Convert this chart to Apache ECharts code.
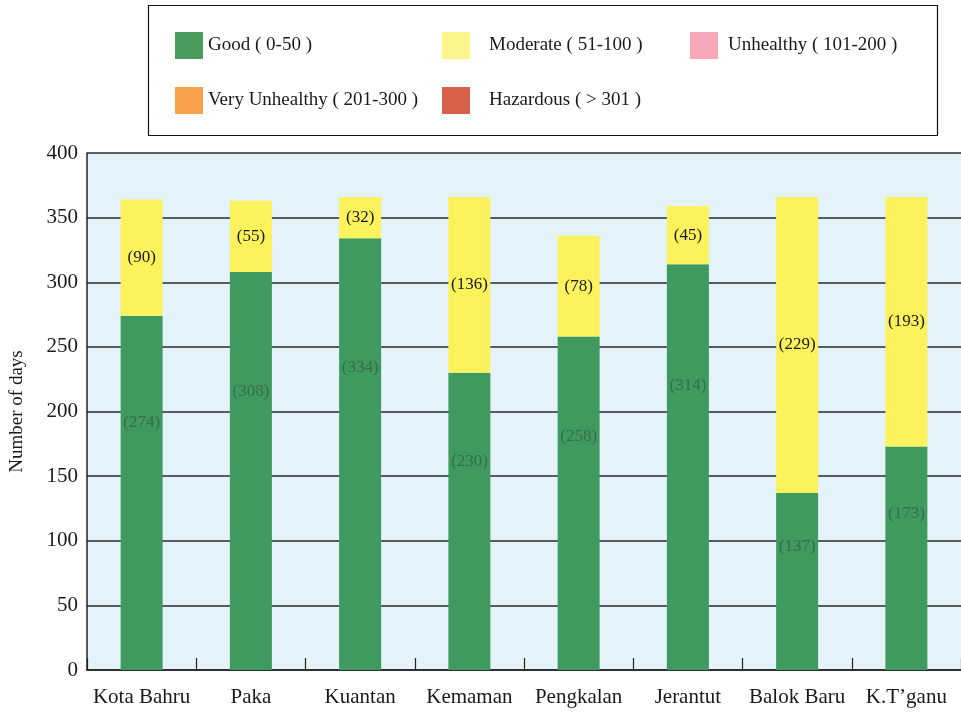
<!DOCTYPE html>
<html>
<head>
<meta charset="utf-8">
<script src="https://cdn.jsdelivr.net/npm/echarts@6/dist/echarts.min.js"></script>
<style>
html,body{margin:0;padding:0;background:#fff;}
#c1{width:961px;height:715px;}
</style>
</head>
<body>
<div id="c1"></div>
<script type="text/javascript">
// stations along the x axis
var stations = ['Kota Bahru', 'Paka', 'Kuantan', 'Kemaman', 'Pengkalan', 'Jerantut', 'Balok Baru', 'K.T\u2019ganu'];
// number of days in each API band
var goodDays = [274, 308, 334, 230, 258, 314, 137, 173];
var moderateDays = [90, 55, 32, 136, 78, 45, 229, 193];
var unhealthyDays = [];
var veryUnhealthyDays = [];
var hazardousDays = [];
var yTicks = [0, 50, 100, 150, 200, 250, 300, 350, 400];

var bandNames = ['Good ( 0-50 )', 'Moderate ( 51-100 )', 'Unhealthy ( 101-200 )', 'Very Unhealthy ( 201-300 )', 'Hazardous ( > 301 )'];
var color = ['#3f9a5f', '#fbf25c', '#f7a8b8', '#f8a24c', '#d8604b'];
var legendColor = ['#4a9d5c', '#fbf68c', '#f7a8b8', '#f8a24c', '#d8604b'];

var font = '"Liberation Serif", "DejaVu Serif", serif';

function legendItem(i, left, top, gap){
    return {
        show: true,
        left: left,
        top: top,
        padding: 0,
        orient: 'horizontal',
        itemWidth: 28,
        itemHeight: 27,
        icon: 'rect',
        selectedMode: false,
        data: [{name: bandNames[i], itemStyle: {color: legendColor[i]}}],
        textStyle: {
            color: '#1a1a1a',
            fontFamily: font,
            fontSize: 19,
            padding: [0, 0, 0, gap]
        }
    };
}

var chart = echarts.init(document.getElementById('c1'));
var option = {
    animation: false,
    color: color,
    legend: [
        legendItem(0, 175, 32, 0),
        legendItem(1, 442, 32, 14),
        legendItem(2, 690, 32, 5),
        legendItem(3, 175, 87, 0),
        legendItem(4, 442, 87, 14)
    ],
    graphic: [{
        type: 'rect',
        shape: {x: 148.5, y: 5.5, width: 789, height: 130},
        style: {fill: 'none', stroke: '#111', lineWidth: 1.2},
        z: -1
    }],
    grid: {
        left: 85,
        top: 153,
        width: 878,
        bottom: 45,
        show: true,
        backgroundColor: '#e4f2f9',
        borderWidth: 0
    },
    xAxis: {
        type: 'category',
        data: stations,
        boundaryGap: true,
        axisLine: {show: true, lineStyle: {color: '#222', width: 1.5}},
        axisTick: {show: true, inside: true, length: 12, lineStyle: {color: '#222', width: 1.2}},
        axisLabel: {
            color: '#1a1a1a',
            fontFamily: font,
            fontSize: 21,
            margin: 17,
            interval: 0
        }
    },
    yAxis: {
        type: 'value',
        min: yTicks[0],
        max: yTicks[yTicks.length - 1],
        interval: 50,
        name: 'Number of days',
        nameLocation: 'middle',
        nameGap: 60,
        nameTextStyle: {color: '#1a1a1a', fontFamily: font, fontSize: 19},
        axisLine: {show: true, lineStyle: {color: '#222', width: 1.5}},
        axisTick: {show: false},
        axisLabel: {color: '#1a1a1a', fontFamily: font, fontSize: 21, margin: 9},
        splitLine: {show: true, lineStyle: {color: '#2a2a2a', width: 1.5}}
    },
    series: [
        {
            name: bandNames[0],
            type: 'bar',
            stack: 'days',
            barWidth: 42,
            data: goodDays,
            label: {
                show: true,
                position: ['50%', '30%'],
                align: 'center',
                verticalAlign: 'middle',
                formatter: '({c})',
                color: '#3a6c4d',
                fontFamily: font,
                fontSize: 17
            }
        },
        {
            name: bandNames[1],
            type: 'bar',
            stack: 'days',
            barWidth: 42,
            data: moderateDays,
            label: {
                show: true,
                position: 'inside',
                formatter: '({c})',
                color: '#1a1a1a',
                fontFamily: font,
                fontSize: 17
            }
        },
        {name: bandNames[2], type: 'bar', stack: 'days', barWidth: 42, data: unhealthyDays},
        {name: bandNames[3], type: 'bar', stack: 'days', barWidth: 42, data: veryUnhealthyDays},
        {name: bandNames[4], type: 'bar', stack: 'days', barWidth: 42, data: hazardousDays}
    ]
};
chart.setOption(option);
</script>
</body>
</html>
